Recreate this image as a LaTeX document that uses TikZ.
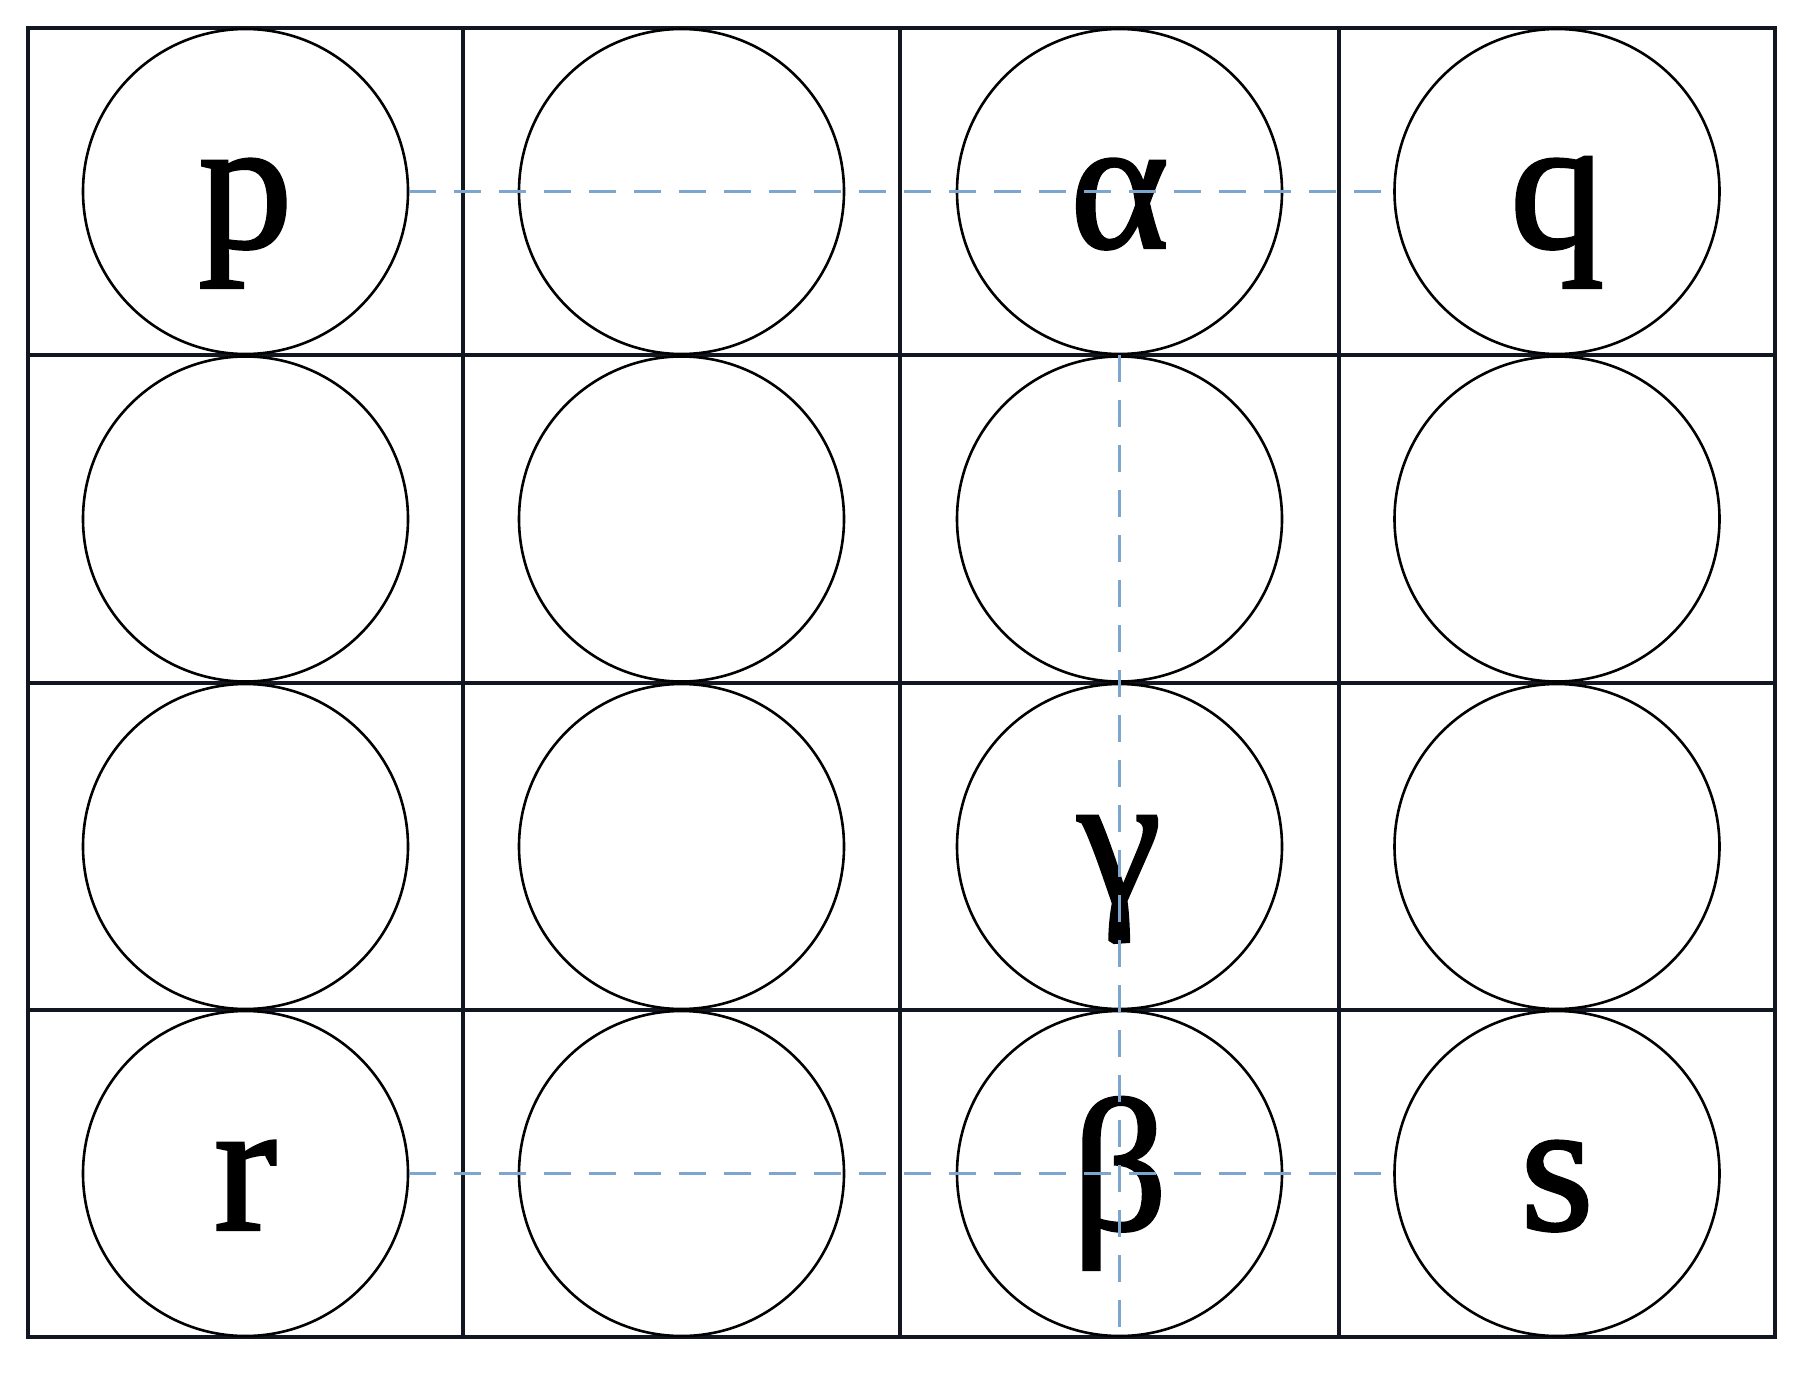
\documentclass[tikz,border=0pt]{standalone}
\usepackage{fontspec}
\setmainfont{Liberation Serif}
\newfontfamily\labfont[FakeBold=1.6]{Liberation Serif}
\definecolor{dashblue}{RGB}{125,165,205}
\definecolor{gridcol}{RGB}{18,22,32}
\begin{document}
\begin{tikzpicture}[x=1pt,y=-1pt,
  cellgrid/.style={draw=gridcol,line width=3.6pt},
  ring/.style={circle,draw=black,line width=2.6pt,minimum size=325pt,inner sep=0pt},
  lab/.style={font=\labfont\fontsize{188}{188}\selectfont,inner sep=0pt,anchor=base,yshift=-56pt},
  link/.style={draw=dashblue,line width=2.8pt,dash pattern=on 27pt off 18pt}]
\useasboundingbox (0,0) rectangle (1805,1380);
\fill[white] (0,0) rectangle (1805,1380);
% grid
\draw[cellgrid] (28,28) rectangle (1775,1337);
\foreach \x in {463,900,1339} \draw[cellgrid] (\x,28) -- (\x,1337);
\foreach \y in {355,683,1010} \draw[cellgrid] (28,\y) -- (1775,\y);
% circles
\foreach \r/\cy in {1/191.5,2/519,3/846.5,4/1173.5}
  \foreach \c/\cx in {1/245.5,2/681.5,3/1119.5,4/1557}
    \node[ring] (c\r\c) at (\cx,\cy) {};
% labels
\node[lab] (tp) at (c11) {p};
\node[lab] (ta) at (c13) {α};
\node[lab] (tq) at (c14) {q};
\node[lab] (tg) at (c33) {γ};
\node[lab] (tr) at (c41) {r};
\node[lab] (tb) at (c43) {β};
\node[lab] (ts) at (c44) {s};
% dashed links
\draw[link] (c11.east) -- (c14.west);
\draw[link] (c41.east) -- (c44.west);
\draw[link] (c13.south) -- (c43.south);
\end{tikzpicture}
\end{document}
